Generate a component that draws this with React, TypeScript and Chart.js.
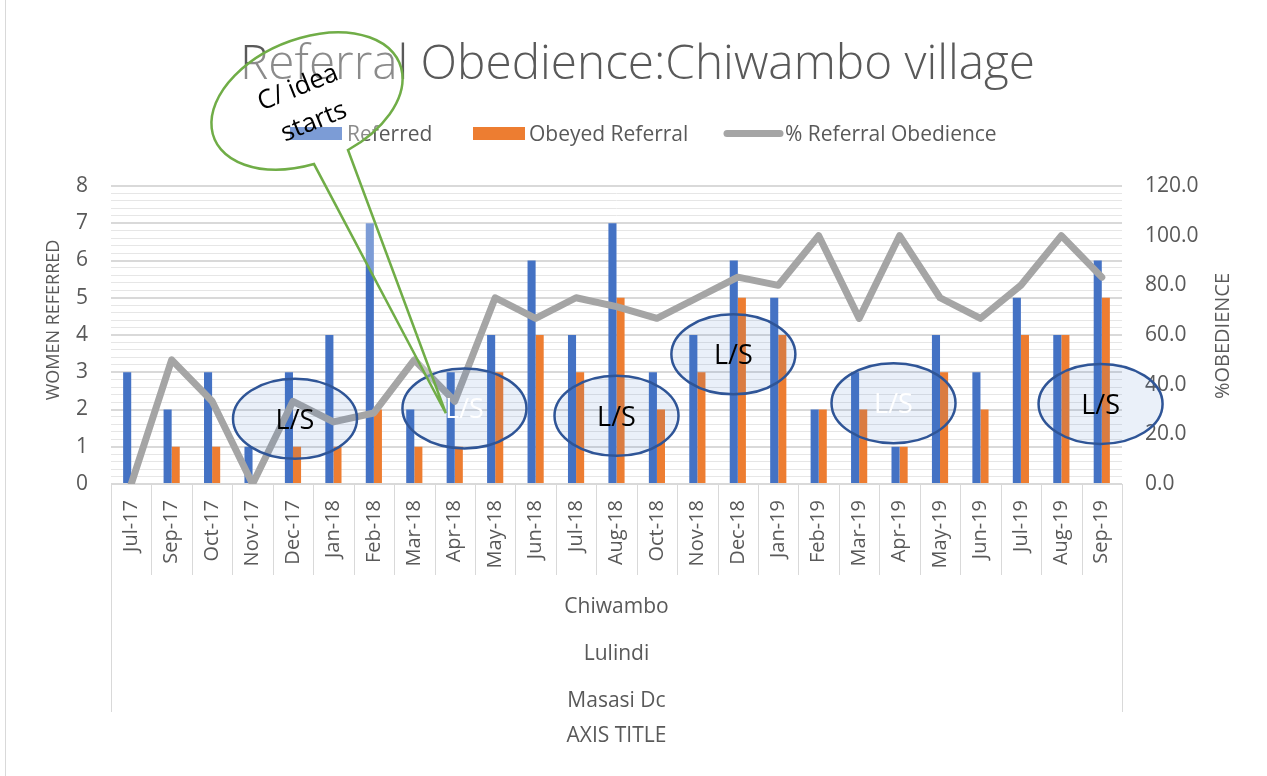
import React, { useEffect, useRef } from 'react';
import { Chart, registerables } from 'chart.js';

Chart.register(...registerables);

// ---------- data ----------
const categories = ['Jul-17', 'Sep-17', 'Oct-17', 'Nov-17', 'Dec-17', 'Jan-18', 'Feb-18', 'Mar-18', 'Apr-18', 'May-18', 'Jun-18', 'Jul-18', 'Aug-18', 'Oct-18', 'Nov-18', 'Dec-18', 'Jan-19', 'Feb-19', 'Mar-19', 'Apr-19', 'May-19', 'Jun-19', 'Jul-19', 'Aug-19', 'Sep-19'];
const referred = [3, 2, 3, 1, 3, 4, 7, 2, 3, 4, 6, 4, 7, 3, 4, 6, 5, 2, 3, 1, 4, 3, 5, 4, 6];
const obeyedReferral = [0, 1, 1, 0, 1, 1, 2, 1, 1, 3, 4, 3, 5, 2, 3, 5, 4, 2, 2, 1, 3, 2, 4, 4, 5];
const referralObedience = [0, 50, 33.3, 0, 33.3, 25, 28.6, 50, 33.3, 75, 66.7, 75, 71.4, 66.7, 75, 83.3, 80, 100, 66.7, 100, 75, 66.7, 80, 100, 83.3];
const seriesNames = ['Referred', 'Obeyed Referral', '% Referral Obedience'];
const groupLabels = ['Chiwambo', 'Lulindi', 'Masasi Dc'];
const chartTitle = 'Referral Obedience:Chiwambo village';
const leftAxisTitle = 'WOMEN REFERRED';
const rightAxisTitle = '%OBEDIENCE';
const bottomAxisTitle = 'AXIS TITLE';
const noteText = 'L/S';
const calloutLines = ['C/ idea', 'starts'];

// annotation anchors (category index, left-axis value)
const noteAnchors = [
  { at: 4.05, v: 1.75, light: false },
  { at: 8.24, v: 2.03, light: true },
  { at: 12.0, v: 1.83, light: false },
  { at: 14.89, v: 3.48, light: false },
  { at: 18.85, v: 2.17, light: true },
  { at: 23.97, v: 2.15, light: false },
];
const calloutTarget = { at: 7.78, v: 1.9 };

// ---------- styles ----------
const FONT = '"Open Sans", "Noto Sans", sans-serif';
const TEXT = '#595959';
const BLUE = '#4472C4';
const ORANGE = '#ED7D31';
const GRAY = '#A5A5A5';

const isMajor = (v: number) => Math.abs(v - Math.round(v)) < 1e-6;

const decor = {
  id: 'decor',
  afterDraw(chart: any) {
    const ctx: CanvasRenderingContext2D = chart.ctx;
    const xs = chart.scales.x;
    const ys = chart.scales.y;
    const { left, right, bottom } = chart.chartArea;
    ctx.save();

    // frame line
    ctx.strokeStyle = '#D9D9D9';
    ctx.lineWidth = 1;
    ctx.beginPath();
    ctx.moveTo(5.5, 0);
    ctx.lineTo(5.5, chart.height);
    ctx.stroke();

    // category separators
    const n = categories.length;
    const cw = (right - left) / n;
    ctx.strokeStyle = '#D9D9D9';
    ctx.lineWidth = 1;
    for (let k = 0; k <= n; k++) {
      const px = Math.round(left + k * cw) + 0.5;
      const end = k === 0 || k === n ? xs.bottom + 137 : xs.bottom;
      ctx.beginPath();
      ctx.moveTo(px, bottom);
      ctx.lineTo(px, end);
      ctx.stroke();
    }

    // group labels + axis title
    const mid = (left + right) / 2;
    ctx.fillStyle = TEXT;
    ctx.font = `21px ${FONT}`;
    ctx.textAlign = 'center';
    ctx.textBaseline = 'alphabetic';
    groupLabels.forEach((g, i) => ctx.fillText(g, mid, xs.bottom + 38 + i * 47));
    ctx.fillText(bottomAxisTitle, mid, xs.bottom + 167);

    // axis titles
    ctx.save();
    ctx.translate(54, 320);
    ctx.rotate(-Math.PI / 2);
    ctx.font = `18px ${FONT}`;
    ctx.textBaseline = 'middle';
    ctx.fillText(leftAxisTitle, 0, 0);
    ctx.restore();
    ctx.save();
    ctx.translate(1223, 336);
    ctx.rotate(-Math.PI / 2);
    ctx.font = `20px ${FONT}`;
    ctx.textBaseline = 'middle';
    ctx.fillText(rightAxisTitle, 0, 0);
    ctx.restore();

    // title, fitted to width
    ctx.font = `300 46px ${FONT}`;
    const w = ctx.measureText(chartTitle).width;
    const size = (46 * 795) / w;
    ctx.font = `300 ${size}px ${FONT}`;
    ctx.fillStyle = TEXT;
    ctx.textAlign = 'center';
    ctx.textBaseline = 'alphabetic';
    ctx.fillText(chartTitle, 637.5, 79);

    // legend
    ctx.font = `21px ${FONT}`;
    ctx.textAlign = 'left';
    ctx.fillStyle = BLUE;
    ctx.fillRect(290, 127, 52, 13);
    ctx.fillStyle = ORANGE;
    ctx.fillRect(473, 127, 52, 13);
    ctx.strokeStyle = GRAY;
    ctx.lineWidth = 7;
    ctx.lineCap = 'round';
    ctx.beginPath();
    ctx.moveTo(727, 133.5);
    ctx.lineTo(780, 133.5);
    ctx.stroke();
    ctx.fillStyle = TEXT;
    ctx.fillText(seriesNames[0], 347, 141);
    ctx.fillText(seriesNames[1], 529, 141);
    ctx.fillText(seriesNames[2], 785, 141);

    // L/S ellipses
    noteAnchors.forEach((a) => {
      const cx = xs.getPixelForValue(a.at);
      const cy = ys.getPixelForValue(a.v);
      ctx.beginPath();
      ctx.ellipse(cx, cy, 62, 40, 0, 0, Math.PI * 2);
      ctx.fillStyle = 'rgba(68,114,196,0.11)';
      ctx.fill();
      ctx.strokeStyle = '#2F5597';
      ctx.lineWidth = 2.5;
      ctx.stroke();
      ctx.fillStyle = a.light ? '#FFFFFF' : '#000000';
      ctx.font = `27px ${FONT}`;
      ctx.textAlign = 'center';
      ctx.textBaseline = 'middle';
      ctx.fillText(noteText, cx, cy + 2);
    });

    // callout bubble
    const bc = { x: 307, y: 101 };
    const ra = 100, rb = 62, rot = (-22 * Math.PI) / 180;
    const tip = { x: xs.getPixelForValue(calloutTarget.at), y: ys.getPixelForValue(calloutTarget.v) };
    const param = (p: { x: number; y: number }) => {
      const dx = p.x - bc.x, dy = p.y - bc.y;
      const c = Math.cos(-rot), s = Math.sin(-rot);
      const xr = dx * c - dy * s, yr = dx * s + dy * c;
      return Math.atan2(yr / rb, xr / ra);
    };
    const t1 = param({ x: 314, y: 164 });
    const t2 = param({ x: 348, y: 150 });
    ctx.beginPath();
    ctx.ellipse(bc.x, bc.y, ra, rb, rot, t1, t2, false);
    ctx.lineTo(tip.x, tip.y);
    ctx.closePath();
    ctx.fillStyle = 'rgba(255,255,255,0.3)';
    ctx.fill();
    ctx.strokeStyle = '#70AD47';
    ctx.lineWidth = 2.5;
    ctx.lineJoin = 'miter';
    ctx.stroke();

    ctx.fillStyle = '#000000';
    ctx.font = `26px ${FONT}`;
    ctx.textAlign = 'center';
    ctx.textBaseline = 'middle';
    const textPos = [{ x: 298, y: 88 }, { x: 314, y: 122 }];
    calloutLines.forEach((t, i) => {
      ctx.save();
      ctx.translate(textPos[i].x, textPos[i].y);
      ctx.rotate(rot);
      ctx.fillText(t, 0, 0);
      ctx.restore();
    });

    ctx.restore();
  },
};

export default function App() {
  const ref = useRef<HTMLCanvasElement>(null);
  useEffect(() => {
    document.body.style.margin = '0';
    document.body.style.background = '#FFFFFF';
    const chart = new Chart(ref.current as HTMLCanvasElement, {
      type: 'bar',
      data: {
        labels: categories,
        datasets: [
          {
            type: 'bar',
            label: seriesNames[0],
            data: referred,
            backgroundColor: BLUE,
            yAxisID: 'y',
            order: 1,
            categoryPercentage: 0.4,
            barPercentage: 1,
          },
          {
            type: 'bar',
            label: seriesNames[1],
            data: obeyedReferral,
            backgroundColor: ORANGE,
            yAxisID: 'y',
            order: 1,
            categoryPercentage: 0.4,
            barPercentage: 1,
          },
          {
            type: 'line',
            label: seriesNames[2],
            data: referralObedience,
            borderColor: GRAY,
            backgroundColor: GRAY,
            borderWidth: 7,
            pointRadius: 0,
            tension: 0,
            borderJoinStyle: 'round',
            borderCapStyle: 'round',
            yAxisID: 'y1',
            order: 0,
          } as any,
        ],
      },
      options: {
        animation: false,
        responsive: false,
        devicePixelRatio: 1,
        layout: { padding: { top: 186, bottom: 201, left: 0, right: 0 } },
        plugins: {
          legend: { display: false },
          title: { display: false },
          tooltip: { enabled: false },
        },
        scales: {
          x: {
            type: 'category',
            offset: true,
            grid: { display: true, drawOnChartArea: false, drawTicks: false },
            border: { display: true, color: '#D9D9D9', width: 1 },
            ticks: {
              autoSkip: false,
              maxRotation: 90,
              minRotation: 90,
              padding: 16,
              color: TEXT,
              font: { family: FONT, size: 20 },
            },
            afterFit: (s: any) => {
              s.height = 91;
            },
          },
          y: {
            position: 'left',
            min: 0,
            max: 8,
            ticks: {
              stepSize: 0.2,
              autoSkip: false,
              padding: 23,
              color: TEXT,
              font: { family: FONT, size: 21 },
              callback: (v: any) => (isMajor(Number(v)) ? String(Math.round(Number(v))) : ''),
            },
            grid: {
              drawTicks: false,
              color: (c: any) => (c.tick && isMajor(c.tick.value) ? '#D9D9D9' : '#E6E6E6'),
              lineWidth: (c: any) => (c.tick && isMajor(c.tick.value) ? 2 : 1),
            },
            border: { display: false },
            afterFit: (s: any) => {
              s.width = 111;
            },
          },
          y1: {
            position: 'right',
            min: 0,
            max: 120,
            ticks: {
              stepSize: 20,
              padding: 23,
              color: TEXT,
              font: { family: FONT, size: 21 },
              callback: (v: any) => Number(v).toFixed(1),
            },
            grid: { drawOnChartArea: false, drawTicks: false },
            border: { display: false },
            afterFit: (s: any) => {
              s.width = 145;
            },
          },
        },
      } as any,
      plugins: [decor],
    });
    return () => chart.destroy();
  }, []);
  return <canvas ref={ref} width={1267} height={776} style={{ display: 'block' }} />;
}
